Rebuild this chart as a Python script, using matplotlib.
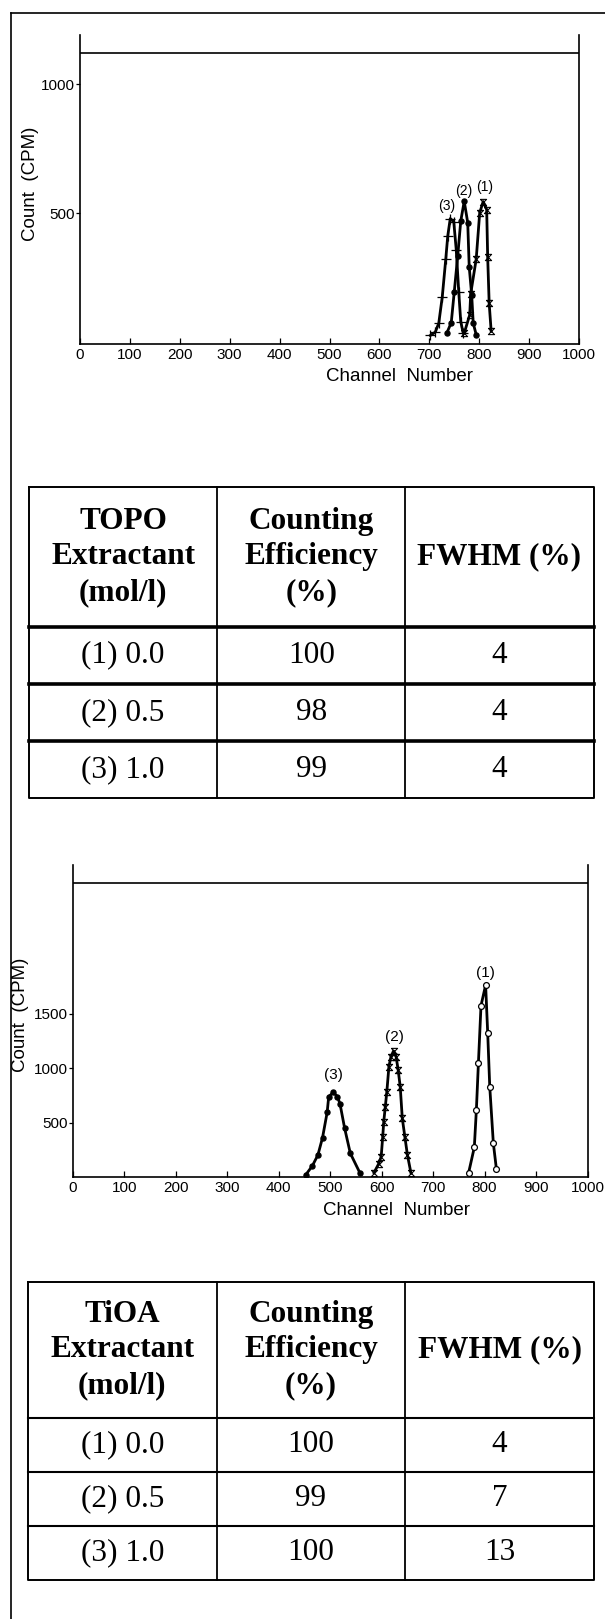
import numpy as np
import matplotlib.pyplot as plt
from matplotlib.path import Path
from matplotlib.lines import Line2D

plt.rcParams['font.family'] = ['Liberation Sans', 'DejaVu Sans']

# TOPO extractant spectra (channel, CPM)
topo_x1 = [770, 781, 783, 794, 801, 808, 815, 817, 820, 824]
topo_y1 = [35, 106, 188, 322, 501, 545, 514, 329, 150, 42]
topo_x2 = [735, 744, 750, 757, 763, 770, 777, 780, 785, 788, 794]
topo_y2 = [35, 76, 195, 335, 469, 546, 463, 291, 182, 74, 29]
topo_x3 = [702, 712, 719, 726, 733, 737, 742, 749, 754, 759, 763, 768]
topo_y3 = [26, 39, 74, 176, 322, 412, 479, 467, 358, 195, 80, 35]

# TiOA extractant spectra (channel, CPM)
tioa_x1 = [769, 780, 784, 788, 793, 802, 806, 810, 817, 823]
tioa_y1 = [40, 273, 616, 1051, 1576, 1766, 1327, 831, 310, 71]
tioa_x2 = [585, 594, 599, 602, 604, 607, 610, 614, 618, 623, 628, 632, 636, 640, 645, 650, 657]
tioa_y2 = [40, 120, 187, 371, 509, 647, 785, 1015, 1107, 1160, 1107, 984, 831, 540, 371, 202, 34]
tioa_x3 = [452, 465, 476, 485, 494, 497, 506, 514, 519, 528, 539, 558]
tioa_y3 = [18, 101, 202, 362, 595, 739, 779, 739, 672, 448, 218, 34]

peak_names = ['(1)', '(2)', '(3)']
topo_label_xy = [(810, 600), (770, 587), (735, 527)]
tioa_label_xy = [(802, 1874), (624, 1291), (507, 938)]

x_ticks = list(range(0, 1001, 100))
topo_yticks = [500, 1000]
tioa_yticks = [500, 1000, 1500]

# table contents
topo_header = ['TOPO\nExtractant\n(mol/l)', 'Counting\nEfficiency\n(%)', 'FWHM (%)']
tioa_header = ['TiOA\nExtractant\n(mol/l)', 'Counting\nEfficiency\n(%)', 'FWHM (%)']
conc = ['(1) 0.0', '(2) 0.5', '(3) 1.0']
topo_eff = [100, 98, 99]
topo_fwhm = [4, 4, 4]
tioa_eff = [100, 99, 100]
tioa_fwhm = [4, 7, 13]

W, H = 605, 1619
fig = plt.figure(figsize=(W / 100, H / 100), dpi=100)

hourglass = Path([(-1, 1), (1, 1), (-1, -1), (1, -1), (-1, 1)])
sty_hour = dict(marker=hourglass, ms=4.5, mfc='none', mec='k', mew=0.8)
sty_dot = dict(marker='o', ms=3.6, mfc='k', mec='k')
sty_open = dict(marker='o', ms=4.2, mfc='white', mec='k', mew=0.9)
sty_plus = dict(marker='+', ms=6.5, mec='k', mew=0.9)


def fig_rect(left, top, right, bottom):
    return [left / W, 1 - bottom / H, (right - left) / W, (bottom - top) / H]


def spectrum(rect, series, labels_xy, ylim, top_line, yticks, lab_size, xlab_x, ylab_x):
    ax = fig.add_axes(rect)
    for (xs, ys, sty) in series:
        ax.plot(xs, ys, color='k', lw=2.0, **sty)
    for name, (lx, ly) in zip(peak_names, labels_xy):
        ax.text(lx, ly, name, ha='center', va='center', fontsize=lab_size)
    ax.axhline(top_line, color='k', lw=1.2)
    ax.set_xlim(0, 1000)
    ax.set_ylim(*ylim)
    ax.set_xticks(x_ticks)
    ax.set_yticks(yticks)
    for s in ['left', 'right', 'bottom']:
        ax.spines[s].set_linewidth(1.2)
    ax.spines['top'].set_visible(False)
    ax.tick_params(axis='x', direction='in', length=4, width=0.9, pad=3, labelsize=11)
    ax.tick_params(axis='y', direction='out', length=3, width=0.9, pad=1, labelsize=11)
    ax.set_xlabel('Channel  Number', fontsize=13.5)
    ax.set_ylabel('Count  (CPM)', fontsize=13.5)
    ax.xaxis.set_label_coords(xlab_x, -0.106)
    ax.xaxis.label.set_va('center')
    ax.yaxis.set_label_coords(ylab_x, 0.52)
    ax.yaxis.label.set_va('center')
    return ax


spectrum(fig_rect(80, 35, 579, 344),
         [(topo_x1, topo_y1, sty_hour), (topo_x2, topo_y2, sty_dot), (topo_x3, topo_y3, sty_plus)],
         topo_label_xy, (-7, 1190), 1122, topo_yticks, 10, 0.641, -0.100)

spectrum(fig_rect(73, 865, 587.5, 1177),
         [(tioa_x1, tioa_y1, sty_open), (tioa_x2, tioa_y2, sty_hour), (tioa_x3, tioa_y3, sty_dot)],
         tioa_label_xy, (0, 2870), 2707, tioa_yticks, 11, 0.629, -0.102)


def table(rect, header, eff, fwhm, hdr_h, sep_lw):
    ax = fig.add_axes(rect)
    n = len(conc)
    ax.set_xlim(0, 3)
    ax.set_ylim(hdr_h + n, 0)
    ax.axis('off')
    kw = dict(color='k', clip_on=False, solid_capstyle='projecting')
    ax.plot([0, 3, 3, 0, 0], [0, 0, hdr_h + n, hdr_h + n, 0], lw=1.4, **kw)
    for c in [1, 2]:
        ax.plot([c, c], [0, hdr_h + n], lw=1.3, **kw)
    for r in range(n):
        ax.plot([0, 3], [hdr_h + r, hdr_h + r], lw=sep_lw, **kw)
    for c, txt in enumerate(header):
        ax.text(c + 0.5, hdr_h / 2, txt, ha='center', va='center', fontsize=22.5,
                family='Liberation Serif', weight='bold', linespacing=1.3)
    for r in range(n):
        row = [conc[r], str(eff[r]), str(fwhm[r])]
        for c, txt in enumerate(row):
            ax.text(c + 0.5, hdr_h + r + 0.5, txt, ha='center', va='center',
                    fontsize=22.5, family='Liberation Serif')
    return ax


table(fig_rect(29, 486.7, 593.5, 798), topo_header, topo_eff, topo_fwhm, 2.45, 2.6)
table(fig_rect(28, 1281.7, 594, 1580), tioa_header, tioa_eff, tioa_fwhm, 2.51, 1.5)

# page frame (top and left edges)
fig.add_artist(Line2D([11 / W, 1], [1 - 12.7 / H] * 2, transform=fig.transFigure, color='k', lw=1.2))
fig.add_artist(Line2D([11 / W] * 2, [1 - 12.7 / H, 0], transform=fig.transFigure, color='k', lw=1.2))

fig.savefig('out.png', dpi=100)
